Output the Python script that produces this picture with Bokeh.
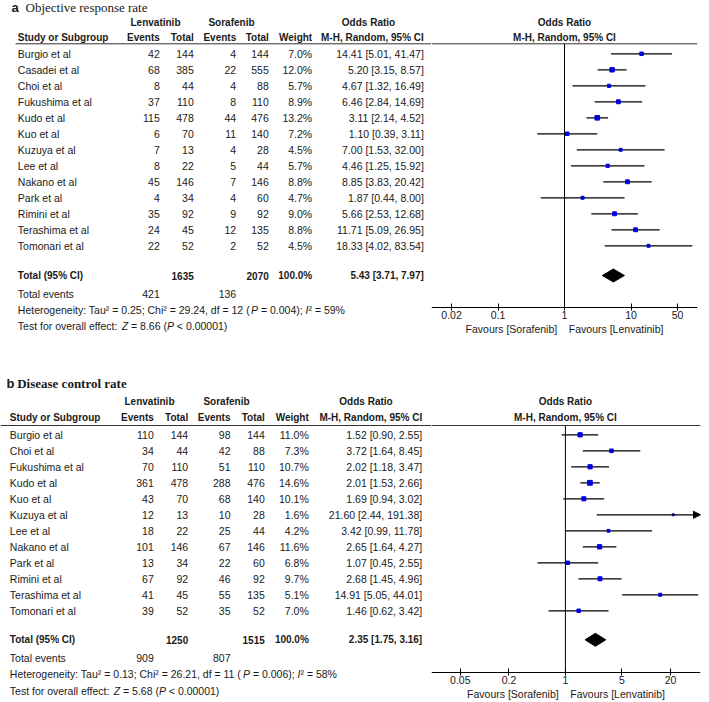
from bokeh.plotting import figure
from bokeh.layouts import row, column
from bokeh.models import Range1d, Span, FixedTicker, CustomJSTickFormatter, Arrow, NormalHead
from bokeh.core.properties import value
from bokeh.embed import file_html
from bokeh.resources import INLINE

# ---------------- (a) Objective response rate ----------------
studies_a = ["Burgio et al", "Casadei et al", "Choi et al", "Fukushima et al", "Kudo et al",
             "Kuo et al", "Kuzuya et al", "Lee et al", "Nakano et al", "Park et al",
             "Rimini et al", "Terashima et al", "Tomonari et al"]
lenv_events_a = [42, 68, 8, 37, 115, 6, 7, 8, 45, 4, 35, 24, 22]
lenv_total_a = [144, 385, 44, 110, 478, 70, 13, 22, 146, 34, 92, 45, 52]
sora_events_a = [4, 22, 4, 8, 44, 11, 4, 5, 7, 4, 9, 12, 2]
sora_total_a = [144, 555, 88, 110, 476, 140, 28, 44, 146, 60, 92, 135, 52]
weight_a = [7.0, 12.0, 5.7, 8.9, 13.2, 7.2, 4.5, 5.7, 8.8, 4.7, 9.0, 8.8, 4.5]
or_a = [14.41, 5.20, 4.67, 6.46, 3.11, 1.10, 7.00, 4.46, 8.85, 1.87, 5.66, 11.71, 18.33]
lo_a = [5.01, 3.15, 1.32, 2.84, 2.14, 0.39, 1.53, 1.25, 3.83, 0.44, 2.53, 5.09, 4.02]
hi_a = [41.47, 8.57, 16.49, 14.69, 4.52, 3.11, 32.00, 15.92, 20.42, 8.00, 12.68, 26.95, 83.54]
totals_a = [1635, 2070]
total_events_a = [421, 136]
pooled_a = [5.43, 3.71, 7.97]
het_a = ["0.25", "29.24", "12", "0.004", "59"]   # Tau², Chi², df, P, I²
test_a = ["8.66", "< 0.00001"]
ticks_a = [0.02, 0.1, 1, 10, 50]

# ---------------- (b) Disease control rate ----------------
studies_b = ["Burgio et al", "Choi et al", "Fukushima et al", "Kudo et al", "Kuo et al",
             "Kuzuya et al", "Lee et al", "Nakano et al", "Park et al", "Rimini et al",
             "Terashima et al", "Tomonari et al"]
lenv_events_b = [110, 34, 70, 361, 43, 12, 18, 101, 13, 67, 41, 39]
lenv_total_b = [144, 44, 110, 478, 70, 13, 22, 146, 34, 92, 45, 52]
sora_events_b = [98, 42, 51, 288, 68, 10, 25, 67, 22, 46, 55, 35]
sora_total_b = [144, 88, 110, 476, 140, 28, 44, 146, 60, 92, 135, 52]
weight_b = [11.0, 7.3, 10.7, 14.6, 10.1, 1.6, 4.2, 11.6, 6.8, 9.7, 5.1, 7.0]
or_b = [1.52, 3.72, 2.02, 2.01, 1.69, 21.60, 3.42, 2.65, 1.07, 2.68, 14.91, 1.46]
lo_b = [0.90, 1.64, 1.18, 1.53, 0.94, 2.44, 0.99, 1.64, 0.45, 1.45, 5.05, 0.62]
hi_b = [2.55, 8.45, 3.47, 2.66, 3.02, 191.38, 11.78, 4.27, 2.55, 4.96, 44.01, 3.42]
totals_b = [1250, 1515]
total_events_b = [909, 807]
pooled_b = [2.35, 1.75, 3.16]
het_b = ["0.13", "26.21", "11", "0.006", "58"]
test_b = ["5.68", "< 0.00001"]
ticks_b = [0.05, 0.2, 1, 5, 20]

# ---------------- styling / layout ----------------
SANS = "Liberation Sans"
SERIF = "Liberation Serif"
TXT = "#1a1a1a"
RULE = "#333333"
BLUE = "#0000dd"
FS = 10.5
FSB = 10
TABLE_W = 431
FOREST_W = 275

LAY_A = dict(fig_top=0, fig_h=340, axis_y=306.7, xr=(0.01, 100), border_right=9,
             title_y=7, letter_x=11, title_x=25, title_bold=False,
             h1=21.7, h2=37.3, line_y=43.3, line_x0=15, row0=53.3,
             total_y=275, events_y=293, het_y=309, test_y=325,
             name_x=17.3, cols=[159.3, 193.3, 235.7, 268.3, 311.7, 423.3],
             lenv_c=155, sora_c=231, or_c=368)
LAY_B = dict(fig_top=340, fig_h=361, axis_y=671.7, xr=(0.022, 47), border_right=6,
             title_y=383.3, letter_x=6, title_x=16.7, title_bold=True,
             h1=401, h2=417.3, line_y=425, line_x0=0, row0=434.3,
             total_y=639.3, events_y=657.7, het_y=673.3, test_y=690,
             name_x=9.3, cols=[153.3, 187.7, 230, 264.3, 308.3, 421.7],
             lenv_c=149, sora_c=226, or_c=365.5)

AW = {' ': 278, '(': 333, ')': 333, ',': 278, '-': 333, '.': 278, ':': 278, ';': 278,
      '<': 584, '=': 584, '%': 889, '[': 278, ']': 278, '\u00b2': 333,
      'C': 722, 'H': 722, 'I': 278, 'P': 667, 'T': 611, 'Z': 611,
      'a': 556, 'c': 500, 'd': 556, 'e': 556, 'f': 278, 'g': 556, 'h': 556, 'i': 222,
      'l': 222, 'n': 556, 'o': 556, 'r': 333, 's': 500, 't': 278, 'u': 556, 'v': 500, 'y': 500}


def tw(s, size):
    return sum(AW.get(c, 556) for c in s) * size / 1000.0


def put(p, xs, ys, texts, align="left", bold=False, italic=False, size=FS, font=SANS, color=TXT):
    style = "bold" if bold else ("italic" if italic else "normal")
    p.text(x=xs, y=ys, text=texts, text_align=align, text_baseline="middle",
           text_font=value(font), text_font_size=f"{size}px", text_font_style=style,
           text_color=color)


def rich(p, x, y, segs, size=FS):
    for s, it in segs:
        lead = len(s) - len(s.lstrip(" "))
        x += tw(s[:lead], size)
        core = s.strip(" ")
        if core:
            put(p, [x], [y], [core], italic=it, size=size)
        x += tw(s[lead:], size)


def build(L, letter, title, studies, ev1, n1, ev2, n2, w, orv, lo, hi,
          totals, tev, pooled, het, test, ticks):
    n = len(studies)
    ys = [L["row0"] + 16 * i for i in range(n)]
    bottom = L["fig_top"] + L["fig_h"]

    # ---- table part ----
    t = figure(width=TABLE_W, height=L["fig_h"], x_range=Range1d(0, TABLE_W),
               y_range=Range1d(bottom, L["fig_top"]), output_backend="svg",
               toolbar_location=None, x_axis_location=None, y_axis_location=None,
               min_border=0, outline_line_color=None)
    t.grid.visible = False

    put(t, [L["letter_x"]], [L["title_y"]], [letter], bold=True, size=13)
    put(t, [L["title_x"]], [L["title_y"]], [title], bold=L["title_bold"], size=13, font=SERIF)

    put(t, [L["lenv_c"], L["sora_c"], L["or_c"]], [L["h1"]] * 3,
        ["Lenvatinib", "Sorafenib", "Odds Ratio"], align="center", bold=True, size=FSB)
    put(t, [L["name_x"]], [L["h2"]], ["Study or Subgroup"], bold=True, size=FSB)
    put(t, L["cols"], [L["h2"]] * 6,
        ["Events", "Total", "Events", "Total", "Weight", "M-H, Random, 95% CI"],
        align="right", bold=True, size=FSB)
    t.segment(x0=[L["line_x0"]], y0=[L["line_y"]], x1=[TABLE_W], y1=[L["line_y"]],
              line_color=RULE, line_width=1)

    put(t, [L["name_x"]] * n, ys, studies)
    for cx, vals in zip(L["cols"][:4], [ev1, n1, ev2, n2]):
        put(t, [cx] * n, ys, [str(v) for v in vals], align="right")
    put(t, [L["cols"][4]] * n, ys, [f"{v:.1f}%" for v in w], align="right")
    put(t, [L["cols"][5]] * n, ys,
        [f"{a:.2f} [{b:.2f}, {c:.2f}]" for a, b, c in zip(orv, lo, hi)], align="right")

    ty = L["total_y"]
    put(t, [L["name_x"]], [ty], ["Total (95% CI)"], bold=True, size=FSB)
    put(t, [L["cols"][1], L["cols"][3], L["cols"][4], L["cols"][5]], [ty] * 4,
        [str(totals[0]), str(totals[1]), "100.0%",
         f"{pooled[0]:.2f} [{pooled[1]:.2f}, {pooled[2]:.2f}]"],
        align="right", bold=True, size=FSB)
    put(t, [L["name_x"]], [L["events_y"]], ["Total events"])
    put(t, [L["cols"][0], L["cols"][2]], [L["events_y"]] * 2,
        [str(tev[0]), str(tev[1])], align="right")

    rich(t, L["name_x"], L["het_y"], [
        (f"Heterogeneity: Tau\u00b2 = {het[0]}; Chi\u00b2 = {het[1]}, df = {het[2]} (", False),
        ("P", True), (f" = {het[3]}); ", False), ("I", True), (f"\u00b2 = {het[4]}%", False)])
    rich(t, L["name_x"], L["test_y"], [
        ("Test for overall effect: ", False), ("Z", True), (f" = {test[0]} (", False),
        ("P", True), (f" {test[1]})", False)])

    # ---- forest part ----
    x0, x1 = L["xr"]
    f = figure(width=FOREST_W, height=L["fig_h"], x_axis_type="log", x_range=Range1d(x0, x1),
               y_range=Range1d(bottom, L["fig_top"]), output_backend="svg",
               toolbar_location=None, y_axis_location=None, outline_line_color=None,
               min_border=0, min_border_right=L["border_right"])
    f.grid.visible = False

    put(f, [1], [L["h1"]], ["Odds Ratio"], align="center", bold=True, size=FSB)
    put(f, [1], [L["h2"]], ["M-H, Random, 95% CI"], align="center", bold=True, size=FSB)
    f.add_layout(Span(location=L["line_y"], dimension="width", line_color=RULE, line_width=1))
    f.segment(x0=[1], y0=[L["line_y"]], x1=[1], y1=[L["axis_y"]], line_color="black", line_width=1)

    inx0, inx1, iny, arr = [], [], [], []
    for a, b, y in zip(lo, hi, ys):
        if b > x1:
            arr.append((max(a, x0), y))
        else:
            inx0.append(max(a, x0)); inx1.append(b); iny.append(y)
    f.segment(x0=inx0, y0=iny, x1=inx1, y1=iny, line_color="black", line_width=1.2)
    for a, y in arr:
        f.add_layout(Arrow(x_start=a, y_start=y, x_end=x1, y_end=y, line_color="black",
                           line_width=1.2,
                           end=NormalHead(size=7, fill_color="black", line_color="black")))
    sizes = [0.6 + 1.1 * (v ** 0.5) for v in w]
    f.scatter(x=orv, y=ys, size=sizes, marker="square", fill_color=BLUE, line_color=BLUE)

    d = 6.5
    f.patch(x=[pooled[1], pooled[0], pooled[2], pooled[0]], y=[ty, ty - d, ty, ty + d],
            fill_color="black", line_color="black")

    ax = f.xaxis[0]
    ax.fixed_location = L["axis_y"]
    ax.ticker = FixedTicker(ticks=ticks, minor_ticks=[])
    ax.formatter = CustomJSTickFormatter(code="return String(tick)")
    ax.axis_label = "Favours [Sorafenib]" + "\u00a0" * 4 + "Favours [Lenvatinib]"
    ax.axis_label_text_font_style = "normal"
    ax.axis_label_text_font = SANS
    ax.axis_label_text_font_size = f"{FS}px"
    ax.axis_label_text_color = TXT
    ax.axis_label_standoff = 0
    ax.major_label_standoff = 1
    ax.major_label_text_font = SANS
    ax.major_label_text_font_size = f"{FS}px"
    ax.major_label_text_color = TXT
    ax.major_tick_in = 4
    ax.major_tick_out = 3
    ax.minor_tick_in = 0
    ax.minor_tick_out = 0
    ax.axis_line_color = "black"
    ax.major_tick_line_color = "black"
    return row(t, f)


panel_a = build(LAY_A, "a", "Objective response rate", studies_a, lenv_events_a, lenv_total_a,
                sora_events_a, sora_total_a, weight_a, or_a, lo_a, hi_a, totals_a,
                total_events_a, pooled_a, het_a, test_a, ticks_a)
panel_b = build(LAY_B, "b", "Disease control rate", studies_b, lenv_events_b, lenv_total_b,
                sora_events_b, sora_total_b, weight_b, or_b, lo_b, hi_b, totals_b,
                total_events_b, pooled_b, het_b, test_b, ticks_b)

p = column(panel_a, panel_b)
open("out.html", "w").write(file_html(p, INLINE))
